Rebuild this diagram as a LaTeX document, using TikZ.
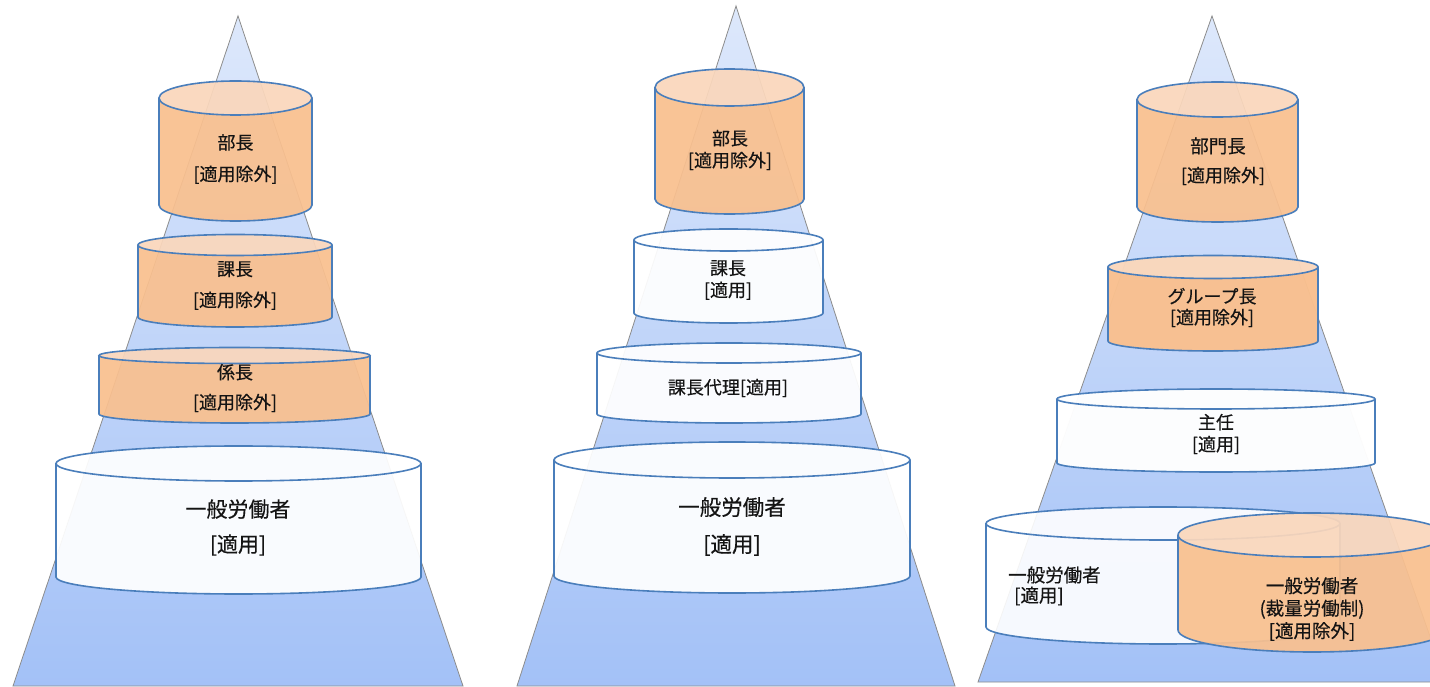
\documentclass[tikz,border=0pt]{standalone}
\usepackage{fontspec}
\newfontfamily\jp[FakeBold=0.4]{Noto Sans CJK JP}
\definecolor{pyrtop}{HTML}{DDE8FB}
\definecolor{pyrbot}{HTML}{A3C1F7}
\definecolor{pyredge}{HTML}{8C8C8C}
\definecolor{orbody}{HTML}{F9C08F}
\definecolor{ortop}{HTML}{FAD7BC}
\definecolor{cylblue}{HTML}{4A7EBB}
\definecolor{txt}{HTML}{141414}
\tikzset{
  pyramid/.style={top color=pyrtop, bottom color=pyrbot, draw=pyredge, line width=0.8pt},
  cylline/.style={draw=cylblue, line width=1.6pt},
  lbl/.style 2 args={font=\jp\fontsize{#1pt}{#2pt}\selectfont, text=txt, align=center, inner sep=0pt},
}
% #1 cx, #2 rx, #3 topY, #4 botY (image coords, y down), #5 ry top, #6 ry bottom, #7 body colour, #8 top colour, #9 opacity
\newcommand\drawcan[9]{%
  \pgfmathsetmacro\cxL{#1-#2}\pgfmathsetmacro\cxR{#1+#2}%
  \pgfmathsetmacro\yT{686-#3}\pgfmathsetmacro\yB{686-#4}%
  \fill[#7, fill opacity=#9] (\cxL,\yT) -- (\cxL,\yB)
     arc[start angle=180,end angle=360,x radius=#2pt,y radius=#6pt] -- (\cxR,\yT)
     arc[start angle=0,end angle=-180,x radius=#2pt,y radius=#5pt] -- cycle;
  \fill[#8, fill opacity=#9] (#1,\yT) ellipse[x radius=#2pt,y radius=#5pt];
  \draw[cylline] (#1,\yT) ellipse[x radius=#2pt,y radius=#5pt];
  \draw[cylline] (\cxL,\yT) -- (\cxL,\yB)
     arc[start angle=180,end angle=360,x radius=#2pt,y radius=#6pt] -- (\cxR,\yT);
}
\begin{document}
\begin{tikzpicture}[x=1pt,y=1pt]
\useasboundingbox (0,0) rectangle (1430,686);
\clip (0,0) rectangle (1430,686);
\fill[white] (0,0) rectangle (1430,686);

% pyramids
\shade[pyramid] (238,670) -- (463,0) -- (13,0) -- cycle;
\shade[pyramid] (736,680) -- (955,0) -- (517,0) -- cycle;
\shade[pyramid] (1212,670) -- (1446,4) -- (978,4) -- cycle;

% pyramid 1
\drawcan{235.5}{76.5}{98}{205}{17}{16}{orbody}{ortop}{0.93}
\node[lbl={18}{31.5}] (a1) at (235.5,{686-159}) {部長\\{[適用除外]}};
\drawcan{235}{97}{245}{317}{10.5}{10}{orbody}{ortop}{0.93}
\node[lbl={18}{31}] (a2) at (235,{686-285.5}) {課長\\{[適用除外]}};
\drawcan{234.5}{135.5}{355.5}{414}{8}{9}{orbody}{ortop}{0.93}
\node[lbl={18}{30}] (a3) at (235,{686-388}) {係長\\{[適用除外]}};
\drawcan{238.5}{182.5}{463.5}{577}{17.5}{17}{white}{white}{0.93}
\node[lbl={21}{35}] (a4) at (238,{686-527.5}) {一般労働者\\{[適用]}};

% pyramid 2
\drawcan{729.5}{74.5}{87.5}{199}{18.5}{15}{orbody}{ortop}{0.93}
\node[lbl={18}{22}] (b1) at (730,{686-150}) {部長\\{[適用除外]}};
\drawcan{728.5}{94.5}{240}{313}{11}{10}{white}{white}{0.93}
\node[lbl={18}{22}] (b2) at (728,{686-280}) {課長\\{[適用]}};
\drawcan{729}{132}{353}{414}{10}{9}{white}{white}{0.93}
\node[lbl={18}{22}] (b3) at (728,{686-388}) {課長代理[適用]};
\drawcan{732}{178}{460}{576}{18}{17}{white}{white}{0.93}
\node[lbl={21.5}{37}] (b4) at (732,{686-526.5}) {一般労働者\\{[適用]}};

% pyramid 3
\drawcan{1217.5}{80.5}{99.5}{207}{17.5}{15}{orbody}{ortop}{0.93}
\node[lbl={18.5}{22}] (c1a) at (1218,{686-146}) {部門長};
\node[lbl={18}{22}] (c1b) at (1223,{686-176}) {[適用除外]};
\drawcan{1213}{105}{267}{341}{11.5}{10}{orbody}{ortop}{0.97}
\node[lbl={18}{21}] (c2) at (1212,{686-307.5}) {グループ長\\{[適用除外]}};
\drawcan{1216}{159}{399}{463}{10}{9}{white}{white}{0.97}
\node[lbl={18}{22}] (c3) at (1216,{686-434}) {主任\\{[適用]}};
\drawcan{1163}{177}{523.5}{627}{16.5}{17}{white}{white}{0.9}
\node[lbl={18.5}{22}, anchor=west] (c4a) at (1008,{686-575}) {一般労働者};
\node[lbl={18.5}{22}, anchor=west] (c4b) at (1014,{686-596}) {[適用]};
\drawcan{1312}{134}{535}{630}{22}{22}{orbody}{ortop}{0.93}
\node[lbl={18.5}{22.5}] (c5) at (1312,{686-609}) {一般労働者\\(裁量労働制)\\{[適用除外]}};
\end{tikzpicture}
\end{document}
